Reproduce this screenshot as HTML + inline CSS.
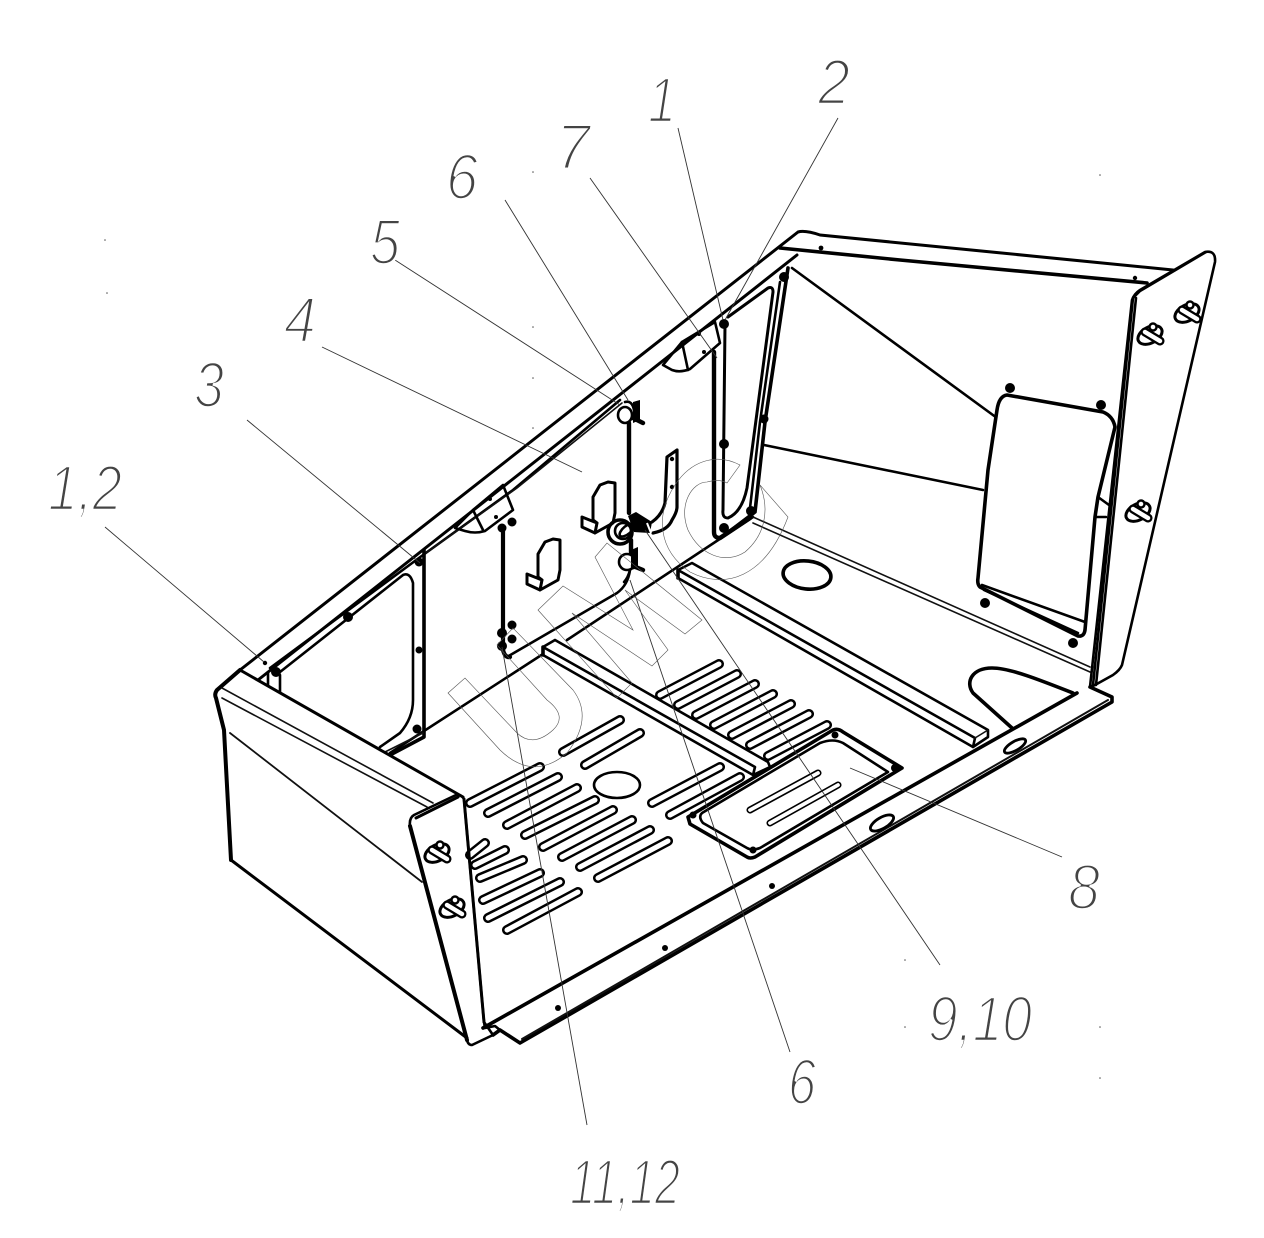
<!DOCTYPE html>
<html><head><meta charset="utf-8"><style>
html,body{margin:0;padding:0;background:#fff}
svg{display:block}
.t{fill:none;stroke:#000;stroke-width:3.6;stroke-linejoin:round;stroke-linecap:round}
.m{fill:none;stroke:#000;stroke-width:2.6;stroke-linejoin:round;stroke-linecap:round}
.n{fill:none;stroke:#111;stroke-width:1.6;stroke-linecap:round}
.L{fill:none;stroke:#333;stroke-width:.9}
.w{fill:none;stroke:#555;stroke-width:.6}
.sb{stroke:#000;stroke-width:10;stroke-linecap:round;fill:none}
.sw{stroke:#fff;stroke-width:5;stroke-linecap:round;fill:none}
text{font-family:"Liberation Sans",sans-serif;font-style:italic;fill:#444;stroke:#fff;stroke-width:2.6}
</style></head><body>
<svg width="1264" height="1238" viewBox="0 0 1264 1238" xmlns="http://www.w3.org/2000/svg">
<defs>
<g id="bolt"><ellipse cx="0" cy="0" rx="13" ry="8" transform="rotate(-28)" fill="#fff" stroke="#000" stroke-width="3"/><circle cx="3" cy="-8" r="3.5" fill="#fff" stroke="#000" stroke-width="2.4"/><path d="M-5,-3L10,6" stroke="#000" stroke-width="9" stroke-linecap="round"/><path d="M-5,-3L10,6" stroke="#fff" stroke-width="4.5" stroke-linecap="round"/></g>
<g id="s3"><path d="M0,0L59,-31" class="sb"/><path d="M0,0L59,-31" class="sw"/></g>
<g id="clip"><path d="M582,517L597,523L595,533L582,527ZM597,523L593,520V497L600,485L608,482L615,483V513L613,523L595,533" class="t" style="stroke-width:3;fill:#fff"/><path d="M597,523L595,533" class="m"/></g>
</defs>

<!-- slots upper right -->
<g>
<use href="#s3" x="660" y="695"/><use href="#s3" x="678" y="705"/><use href="#s3" x="696" y="715"/><use href="#s3" x="714" y="725"/><use href="#s3" x="732" y="735"/><use href="#s3" x="750" y="745"/><use href="#s3" x="768" y="756"/>
</g>
<g id="slots">
<path d="M563,752L620,720M585,765L640,733M652,803L720,767M670,815L740,777M470,803L540,767M488,813L558,777M507,825L577,788M525,835L595,800M543,847L613,810M562,857L632,820M580,867L650,830M598,878L668,841M470,855L485,843M475,865L505,850M480,878L523,860M483,900L540,873M488,918L560,882M507,930L578,892" class="sb"/>
<path d="M563,752L620,720M585,765L640,733M652,803L720,767M670,815L740,777M470,803L540,767M488,813L558,777M507,825L577,788M525,835L595,800M543,847L613,810M562,857L632,820M580,867L650,830M598,878L668,841M470,855L485,843M475,865L505,850M480,878L523,860M483,900L540,873M488,918L560,882M507,930L578,892" class="sw"/>
</g>
<ellipse cx="617" cy="785" rx="23" ry="13" class="m"/>
<ellipse cx="807" cy="575" rx="24" ry="14" transform="rotate(6 807 575)" class="t"/>

<!-- floor edges -->
<path d="M390,753L543,654M567,640L753,517" class="m"/>
<path d="M483,1028L1077,693" class="t"/>
<path d="M493,1035L500,1030L520,1043L1112,702L1112,697L1090,687" class="t"/>
<path d="M522,1039L1108,700" class="n" style="stroke-width:2"/>
<path d="M753,517L1090,667M753,523L1090,672" class="n"/>
<path d="M1012,728L973,693C965,682 972,668 992,668C1010,668 1040,680 1073,693" class="t"/>
<g fill="#fff" stroke="#000" stroke-width="2.8">
<ellipse cx="1015" cy="746" rx="12" ry="4.5" transform="rotate(-30 1015 746)"/>
<ellipse cx="882" cy="823" rx="13" ry="5.5" transform="rotate(-30 882 823)"/>
</g>
<g fill="#000"><circle cx="558" cy="1008" r="3"/><circle cx="665" cy="948" r="3"/><circle cx="772" cy="886" r="3"/><circle cx="433" cy="786" r="2.5"/><circle cx="260" cy="692" r="2.8"/><circle cx="265" cy="663" r="2.2"/><circle cx="821" cy="248" r="2.4"/><circle cx="1135" cy="278" r="2.2"/><circle cx="1105" cy="640" r="2.2"/></g>

<!-- rails -->
<path d="M678,578L973,747L975,738L678,570L692,563L988,730L988,737L973,747" class="m" fill="#fff"/>
<path d="M975,738L988,730" class="n"/>
<path d="M543,655L753,775L755,767L543,647L555,640L768,762L770,767L753,775" class="m" style="fill:#fff"/>
<path d="M678,570V578M543,647V655" class="t"/>

<!-- access frame -->
<path d="M688,817L833,730Q838,728 843,732L902,768L755,857Q750,859 747,857L690,824Z" class="t" style="fill:#fff"/>
<path d="M702,813L820,743Q833,738 843,743L888,772L760,848Q752,851 747,848L703,823Q698,817 702,813Z" class="m"/>
<path d="M750,810L818,773M770,823L838,785" class="sb" style="stroke-width:7"/>
<path d="M750,810L818,773M770,823L838,785" class="sw" style="stroke-width:3.8"/>
<g fill="#000"><circle cx="693" cy="815" r="3.5"/><circle cx="753" cy="850" r="3.5"/><circle cx="895" cy="768" r="4"/><circle cx="835" cy="735" r="3.5"/></g>

<!-- long top rails -->
<path d="M240,670L798,232Q805,230 820,235L1173,270" class="m" style="stroke-width:3"/>
<path d="M258,680L797,255" class="m" style="stroke-width:3"/>
<path d="M270,668L423,555L513,490L620,400" class="m"/>
<path d="M280,672L403,575Q410,572 413,583V700Q413,718 400,733L380,747" class="m"/>
<path d="M423,555L517,488L622,403" class="n"/>
<path d="M780,248L900,260L1147,283" class="t"/>

<!-- interior right -->
<path d="M792,268L997,418M764,445L983,490" class="m"/>
<path d="M788,268L765,422L755,512L722,537" class="t"/>
<path d="M780,282L760,422L750,508" class="m"/>
<path d="M728,317L768,288Q773,286 773,292L747,488Q742,512 728,518Q722,518 723,510L725,325" class="t" style="stroke-width:3"/>
<path d="M714,352V532Q714,538 720,538L750,518" class="t" style="stroke-width:4.4"/>
<g fill="#000"><circle cx="724" cy="324" r="5"/><circle cx="724" cy="444" r="5"/><circle cx="724" cy="528" r="5"/><circle cx="751" cy="511" r="5"/><circle cx="764" cy="419" r="4.5"/><circle cx="784" cy="277" r="5"/></g>

<!-- door panel -->
<path d="M1007,395L1103,412Q1113,416 1115,427L1098,497L1095,517L1085,630Q1084,637 1078,636L980,587Q977,584 978,578L988,470L997,410Q999,396 1007,395Z" class="t" style="fill:#fff"/>
<path d="M982,585L1085,622M1098,497L1109,505M1095,517H1106" class="m"/>
<path d="M984,590L1078,633" class="m"/>
<g fill="#000"><circle cx="1010" cy="388" r="5"/><circle cx="1101" cy="405" r="5"/><circle cx="985" cy="603" r="5"/><circle cx="1073" cy="643" r="5"/></g>

<!-- right plate -->
<path d="M1140,290L1205,252Q1216,250 1215,262L1122,665Q1120,670 1113,675L1095,685L1090,687L1132,300Q1134,294 1140,290Z" class="m" style="fill:#fff"/>
<path d="M1096,685L1136,298" class="m"/>
<path d="M1093,685L1133,298L1140,291L1206,252" class="m"/>
<use href="#bolt" x="1150" y="335"/><use href="#bolt" x="1187" y="313"/><use href="#bolt" x="1138" y="512"/>

<!-- left window -->
<path d="M268,672V690M280,675V692" class="m"/>
<path d="M424,550V737L390,755" class="t"/>
<path d="M423,733L385,752" class="n"/>
<g fill="#000"><circle cx="419" cy="562" r="4.5"/><circle cx="348" cy="617" r="5"/><circle cx="276" cy="672" r="5"/><circle cx="417" cy="729" r="4.5"/><circle cx="419" cy="650" r="3.5"/></g>

<!-- centre wall panel -->
<path d="M507,657L617,593Q628,585 630,570" class="m"/>
<path d="M503,527V650Q505,658 510,657" class="t" style="stroke-width:4.2"/>
<path d="M629,423V513" class="t" style="stroke-width:4.4"/>
<g fill="#000"><circle cx="502" cy="528" r="4.5"/><circle cx="512" cy="522" r="4.5"/><circle cx="512" cy="625" r="4.5"/><circle cx="502" cy="633" r="5"/><circle cx="512" cy="639" r="4.5"/><circle cx="502" cy="646" r="5"/></g>

<!-- brackets -->
<path d="M455,528L473,510L503,485L513,510L485,531Q475,534 465,531Z" class="m" fill="#fff"/>
<path d="M473,510L483,530" class="m"/>
<circle cx="490" cy="499" r="2"/><circle cx="496" cy="517" r="2"/>
<path d="M663,365L682,342L715,322L720,343L690,369Q680,373 672,370Z" class="m" fill="#fff"/>
<path d="M682,342L688,370" class="m"/>
<circle cx="699" cy="334" r="2"/><circle cx="704" cy="352" r="2"/>

<!-- clips -->
<use href="#clip"/>
<use href="#clip" x="-55" y="57"/>

<!-- strap -->
<path d="M653,533Q668,530 672,520Q677,512 677,507V450L667,457L665,503Q662,515 652,522" class="t" style="stroke-width:3.2;fill:#fff"/>
<circle cx="672" cy="459" r="2.2"/><circle cx="672" cy="487" r="2.2"/>
<!-- knobs, rings -->
<ellipse cx="625" cy="415" rx="7" ry="8" class="m" fill="#fff"/>
<path d="M625,402Q632,400 634,410" class="m"/>
<path d="M633,402L640,400V420L633,423Z" fill="#000"/>
<path d="M633,418L643,423" class="t" style="stroke-width:4.4"/>
<ellipse cx="627" cy="562" rx="8" ry="8" class="m" fill="#fff"/>
<path d="M631,550L638,547V568L631,570Z" fill="#000"/>
<path d="M633,566L643,570" class="t" style="stroke-width:4.4"/>
<circle cx="620" cy="532" r="12" class="t" fill="#fff"/>
<circle cx="623" cy="531" r="8" class="m"/>
<ellipse cx="627" cy="530" rx="9" ry="4" transform="rotate(-40 627 530)" class="m"/>
<path d="M628,516L636,512L652,522L650,533L634,532Z" fill="#000"/>
<path d="M647,523L651,533" stroke="#fff" stroke-width="2"/>
<path d="M631,540V552" class="t" style="stroke-width:4.4"/>
<path d="M630,570Q628,578 624,582" class="m"/>

<!-- left front panel -->
<path d="M215,692L240,670L463,797L410,823L467,1040L231,860L224,730Z" fill="#fff"/>
<path d="M231,860L467,1038" class="m" style="stroke-width:3"/>
<path d="M240,670L463,797" class="m" style="stroke-width:3"/>
<path d="M240,670L217,690Q214,694 216,698L224,730L231,860" class="t" style="stroke-width:4"/>
<path d="M222,688L433,803M222,698L427,807" class="n"/>
<path d="M230,733L422,882" class="n" style="stroke-width:1.8"/>
<!-- left end plate -->
<path d="M414,815L456,795Q461,794 464,799L484,1022L493,1035L472,1045Q468,1045 467,1040L410,826Q409,818 414,815Z" fill="#fff" class="m"/>
<path d="M410,826L467,1040" class="t" style="stroke-width:4"/>
<path d="M416,818L458,797" class="t" style="stroke-width:3"/>
<path d="M464,799L484,1022" class="m" style="stroke-width:3"/>
<path d="M484,1022L485,1028L495,1026L500,1030" class="m"/>
<use href="#bolt" x="437" y="853"/><use href="#bolt" x="452" y="908"/>

<!-- leader lines -->
<path d="M105,527L264,662M247,420L420,563M322,347L582,472M395,260L620,405M505,200L628,400M590,178L717,358M678,128L723,320M838,118L725,320M790,1052L630,580M940,965L645,530M850,768L1062,857M587,1125L502,647" class="L"/>

<!-- watermark UMC -->
<path d="M448,693L465,678L517,733Q533,748 553,730Q568,716 547,700L497,645L513,628L573,690Q594,718 567,753Q533,782 500,750Z" class="w"/>
<path d="M538,610L617,698L632,683L572,613L652,666L668,650L625,590L685,634L702,620L607,543L595,557L633,630L563,586Z" class="w"/>
<path d="M740,465C715,452 690,462 675,485C655,515 658,550 690,572C725,590 765,578 788,517L760,485C770,510 765,535 745,552C725,565 700,555 688,530C678,505 692,482 707,482C715,480 722,480 727,483Z" class="w"/>

<!-- stray dots -->
<g fill="#555"><circle cx="1100" cy="175" r=".8"/><circle cx="105" cy="240" r=".8"/><circle cx="107" cy="293" r=".8"/><circle cx="905" cy="960" r=".8"/><circle cx="905" cy="1027" r=".8"/><circle cx="1100" cy="1027" r=".8"/><circle cx="1100" cy="1078" r=".8"/><circle cx="533" cy="172" r=".8"/><circle cx="533" cy="327" r=".8"/><circle cx="533" cy="378" r=".8"/><circle cx="533" cy="428" r=".8"/></g>

<!-- labels -->
<g font-size="64">
<text x="818" y="104" textLength="32" lengthAdjust="spacingAndGlyphs">2</text>
<text x="648" y="122" textLength="28" lengthAdjust="spacingAndGlyphs">1</text>
<text x="556" y="169" textLength="34" lengthAdjust="spacingAndGlyphs">7</text>
<text x="446" y="199" textLength="32" lengthAdjust="spacingAndGlyphs">6</text>
<text x="370" y="264" textLength="30" lengthAdjust="spacingAndGlyphs">5</text>
<text x="284" y="342" textLength="32" lengthAdjust="spacingAndGlyphs">4</text>
<text x="194" y="407" textLength="30" lengthAdjust="spacingAndGlyphs">3</text>
<text x="48" y="510" textLength="74" lengthAdjust="spacingAndGlyphs">1,2</text>
<text x="1068" y="909" textLength="32" lengthAdjust="spacingAndGlyphs">8</text>
<text x="928" y="1041" textLength="104" lengthAdjust="spacingAndGlyphs">9,10</text>
<text x="788" y="1104" textLength="28" lengthAdjust="spacingAndGlyphs">6</text>
<text x="570" y="1204" textLength="110" lengthAdjust="spacingAndGlyphs">11,12</text>
</g>
</svg>
</body></html>
